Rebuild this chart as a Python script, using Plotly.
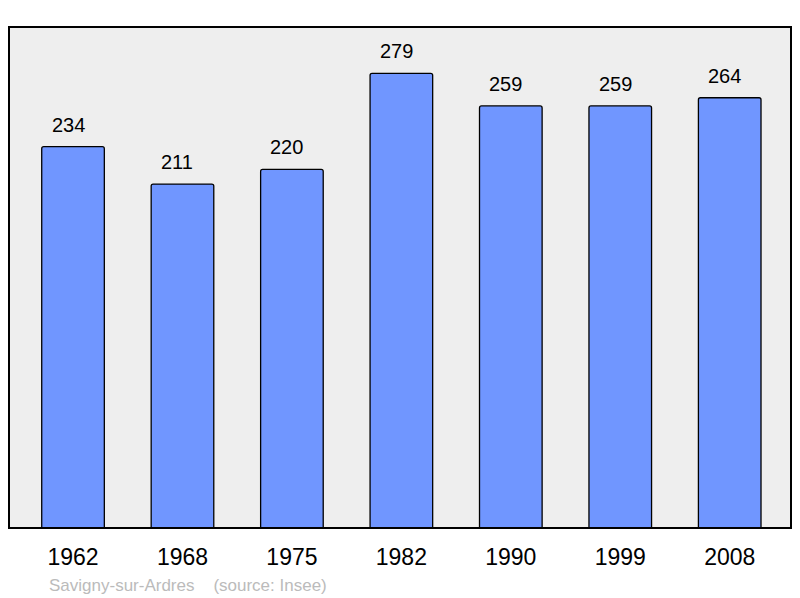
import plotly.graph_objects as go

# Population data
years = ["1962", "1968", "1975", "1982", "1990", "1999", "2008"]
population = [234, 211, 220, 279, 259, 259, 264]
source_text = "Savigny-sur-Ardres    (source: Insee)"

fig = go.Figure()
fig.add_trace(go.Bar(
    x=years,
    y=population,
    width=0.572,
    marker=dict(color="#7096ff", line=dict(color="#000000", width=1.3), cornerradius=2),
    hoverinfo="x+y",
))

# value labels above bars (category index used as x)
for i, val in enumerate(population):
    fig.add_annotation(
        x=i, y=val, xref="x", yref="y", text=str(val), showarrow=False,
        xshift=-5, yshift=22, yanchor="middle",
        font=dict(family="Liberation Sans, Arial, sans-serif", size=20, color="#000000"),
    )

fig.add_annotation(
    xref="paper", yref="paper", x=0.048, y=-0.1138,
    xanchor="left", yanchor="middle", showarrow=False,
    text=source_text,
    font=dict(family="Liberation Sans, Arial, sans-serif", size=17, color="#bbbbbb"),
)

# plot frame
fig.add_shape(
    type="rect", xref="paper", yref="paper", x0=0, y0=0, x1=1, y1=1,
    line=dict(color="#000000", width=2), layer="above",
)

# page body has an 8px margin, so the figure is sized 792x590
fig.update_layout(
    width=792, height=590,
    margin=dict(l=1, r=9, t=19, b=70),
    paper_bgcolor="#ffffff",
    plot_bgcolor="#eeeeee",
    showlegend=False,
    font=dict(family="Liberation Sans, Arial, sans-serif"),
    xaxis=dict(
        type="category", range=[-0.585, 6.56], showgrid=False, zeroline=False,
        tickfont=dict(size=23, color="#000000"), ticks="", ticklabelstandoff=13,
    ),
    yaxis=dict(range=[0, 307.4], showgrid=False, zeroline=False, showticklabels=False),
)

fig.write_html("out.html")
